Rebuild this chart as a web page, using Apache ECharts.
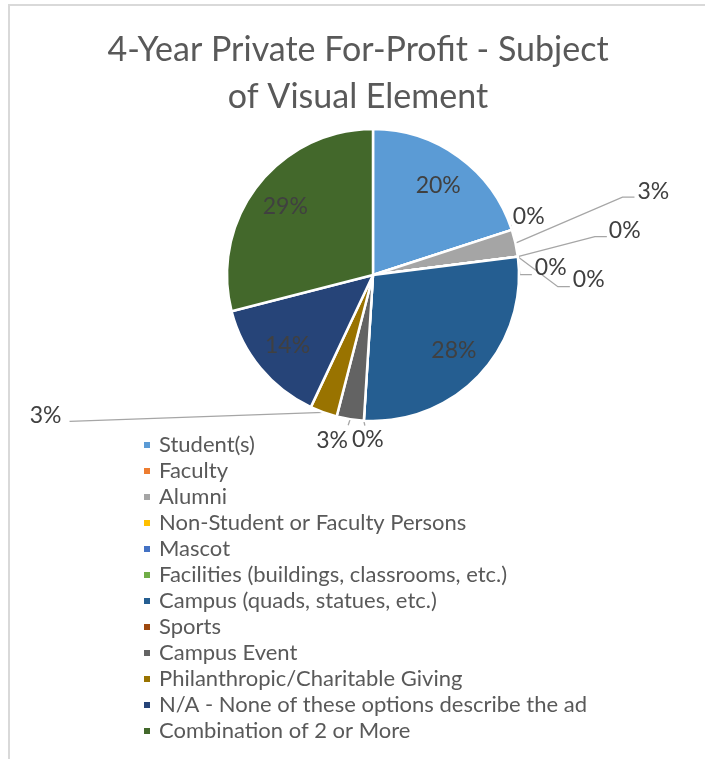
<!DOCTYPE html>
<html>
<head>
<meta charset="utf-8">
<title>4-Year Private For-Profit - Subject of Visual Element</title>
<script src="https://cdn.jsdelivr.net/npm/echarts@6/dist/echarts.min.js"></script>
<style>
  html, body { margin: 0; padding: 0; background: #ffffff; }
  #chart { width: 705px; height: 759px; }
</style>
</head>
<body>
<div id="chart"></div>
<script>
// Subject categories, in slice order (clockwise from 12 o'clock)
const categories = [
  'Student(s)',
  'Faculty',
  'Alumni',
  'Non-Student or Faculty Persons',
  'Mascot',
  'Facilities (buildings, classrooms, etc.)',
  'Campus (quads, statues, etc.)',
  'Sports',
  'Campus Event',
  'Philanthropic/Charitable Giving',
  'N/A - None of these options describe the ad',
  'Combination of 2 or More'
];

// Share of ads per subject, in percent
const shares = [20, 0, 3, 0, 0, 0, 28, 0, 3, 3, 14, 29];

// Office-style palette, one colour per category
const sliceColors = [
  '#5B9BD5', '#ED7D31', '#A5A5A5', '#FFC000', '#4472C4', '#70AD47',
  '#255E91', '#9E480E', '#636363', '#997300', '#264478', '#43682B'
];

const FONT = 'Lato, "Open Sans", sans-serif';
const PIE_CENTER = [373, 275];
const PIE_RADIUS = 146;
const INSIDE_LABEL_PUSH = 1.46; // moves inside labels further out toward the rim

// Label placement per slice: inside labels, or leader-line offsets measured
// from the point where the leader line leaves the rim.
const labelPlacement = [
  { inside: true },
  { line: [[-1, -5]], text: [1, -13], align: 'left' },
  { line: [[107, -46], [119, -46]], text: [122, -52], align: 'left' },
  { line: [[77, -20], [89, -20]], text: [91, -26], align: 'left' },
  { line: [[2, 18], [14, 18]], text: [17, 11], align: 'left' },
  { line: [[40, 30], [52, 30]], text: [55, 23], align: 'left' },
  { inside: true },
  { line: [[1, 5]], text: [4, 19], align: 'center' },
  { line: [[-2, 6]], text: [-18, 21], align: 'center' },
  { line: [[-254, 9]], text: [-262, 3], align: 'right' },
  { inside: true },
  { inside: true }
];

const chart = echarts.init(document.getElementById('chart'), null, { renderer: 'canvas' });

const seriesData = categories.map(function (name, i) {
  const inside = !!labelPlacement[i].inside;
  return {
    name: name,
    value: shares[i],
    label: { position: inside ? 'inside' : 'outside' },
    labelLine: { show: !inside }
  };
});

chart.setOption({
  animation: false,
  color: sliceColors,
  backgroundColor: '#ffffff',
  title: {
    text: '4-Year Private For-Profit - Subject\nof Visual Element',
    left: 358,
    top: 27,
    padding: 0,
    textAlign: 'center',
    textStyle: {
      fontFamily: FONT,
      fontSize: 34,
      fontWeight: 'normal',
      color: '#595959',
      lineHeight: 47
    }
  },
  legend: {
    orient: 'vertical',
    left: 142,
    top: 432,
    padding: 0,
    itemGap: 0,
    itemWidth: 8,
    itemHeight: 8,
    icon: 'rect',
    selectedMode: false,
    data: categories,
    textStyle: {
      fontFamily: FONT,
      fontSize: 22,
      color: '#595959',
      lineHeight: 26,
      padding: [0, 0, 0, 3]
    }
  },
  graphic: [{
    type: 'rect',
    silent: true,
    shape: { x: 9, y: 5, width: 800, height: 800 },
    style: { fill: 'none', stroke: '#D9D9D9', lineWidth: 2 }
  }],
  series: [{
    type: 'pie',
    center: PIE_CENTER,
    radius: PIE_RADIUS,
    startAngle: 90,
    clockwise: true,
    avoidLabelOverlap: false,
    silent: true,
    emphasis: { disabled: true },
    itemStyle: { borderColor: '#ffffff', borderWidth: 2.5 },
    label: {
      show: true,
      color: '#404040',
      fontFamily: FONT,
      fontSize: 23,
      formatter: function (p) { return p.value + '%'; }
    },
    labelLine: {
      show: true,
      smooth: false,
      lineStyle: { color: '#A6A6A6', width: 1.3 }
    },
    labelLayout: function (params) {
      const place = labelPlacement[params.dataIndex];
      if (place.inside) {
        const r = params.labelRect;
        const mx = r.x + r.width / 2;
        const my = r.y + r.height / 2;
        return {
          x: PIE_CENTER[0] + (mx - PIE_CENTER[0]) * INSIDE_LABEL_PUSH,
          y: PIE_CENTER[1] + (my - PIE_CENTER[1]) * INSIDE_LABEL_PUSH,
          align: 'center',
          verticalAlign: 'middle'
        };
      }
      const p0 = params.labelLinePoints[0];
      const points = [[p0[0], p0[1]]].concat(place.line.map(function (d) {
        return [p0[0] + d[0], p0[1] + d[1]];
      }));
      return {
        x: p0[0] + place.text[0],
        y: p0[1] + place.text[1],
        align: place.align,
        verticalAlign: 'middle',
        labelLinePoints: points
      };
    },
    data: seriesData
  }]
});
</script>
</body>
</html>
